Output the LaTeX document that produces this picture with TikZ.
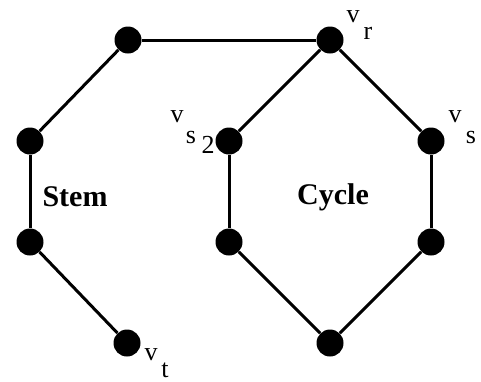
\documentclass[tikz,border=0pt]{standalone}
\usepackage{fontspec}
\setmainfont{Liberation Serif}
\usepackage{xcolor}
\usetikzlibrary{positioning}

\begin{document}
\begin{tikzpicture}[x=0.5pt, y=-0.5pt]
    \useasboundingbox (0, 0) rectangle (481, 381);
    \begin{scope}[
        vertex/.style={circle, fill=black, inner sep=0pt, minimum size=13.5pt},
        edge/.style={line width=1.5pt, draw=black},
        vname/.style={font=\fontsize{13}{15}\selectfont, inner sep=0pt},
        partlabel/.style={font=\fontsize{15}{18}\selectfont\bfseries, inner sep=0pt}
    ]
        % ================= STEM =================
        \node[vertex] (top_left) at (128, 40) {};
        \node[vertex] (stem_up) at (30, 141) {};
        \node[vertex] (stem_low) at (30, 242) {};
        \node[vertex] (v_t) at (127, 343) {};

        % ================= CYCLE =================
        \node[vertex] (v_r) at (330, 40) {};
        \node[vertex] (v_s2) at (229, 141) {};
        \node[vertex] (cyc_left) at (229, 242) {};
        \node[vertex] (cyc_bottom) at (330, 343) {};
        \node[vertex] (cyc_right) at (431, 242) {};
        \node[vertex] (v_s) at (431, 141) {};

        \draw[edge] (top_left) -- (v_r);
        \draw[edge] (top_left) -- (stem_up);
        \draw[edge] (stem_up) -- (stem_low);
        \draw[edge] (stem_low) -- (v_t);
        \draw[edge] (v_r) -- (v_s2);
        \draw[edge] (v_s2) -- (cyc_left);
        \draw[edge] (cyc_left) -- (cyc_bottom);
        \draw[edge] (cyc_bottom) -- (cyc_right);
        \draw[edge] (cyc_right) -- (v_s);
        \draw[edge] (v_s) -- (v_r);

        % ================= LABELS =================
        \node[vname] (lab_r_v) at (353, 17) {v};
        \node[vname] (lab_r_sub) at (368, 33) {r};
        \node[vname] (lab_s2_v) at (177, 117) {v};
        \node[vname] (lab_s2_sub) at (191, 137) {s};
        \node[vname] (lab_s2_idx) at (208, 145) {2};
        \node[vname] (lab_s_v) at (455, 117) {v};
        \node[vname] (lab_s_sub) at (471, 137) {s};
        \node[vname] (lab_t_v) at (151, 355) {v};
        \node[vname] (lab_t_sub) at (165, 370) {t};

        \node[partlabel] (stem) at (75, 197) {Stem};
        \node[partlabel] (cycle) at (333, 197) {Cycle};
    \end{scope}
\end{tikzpicture}
\end{document}
